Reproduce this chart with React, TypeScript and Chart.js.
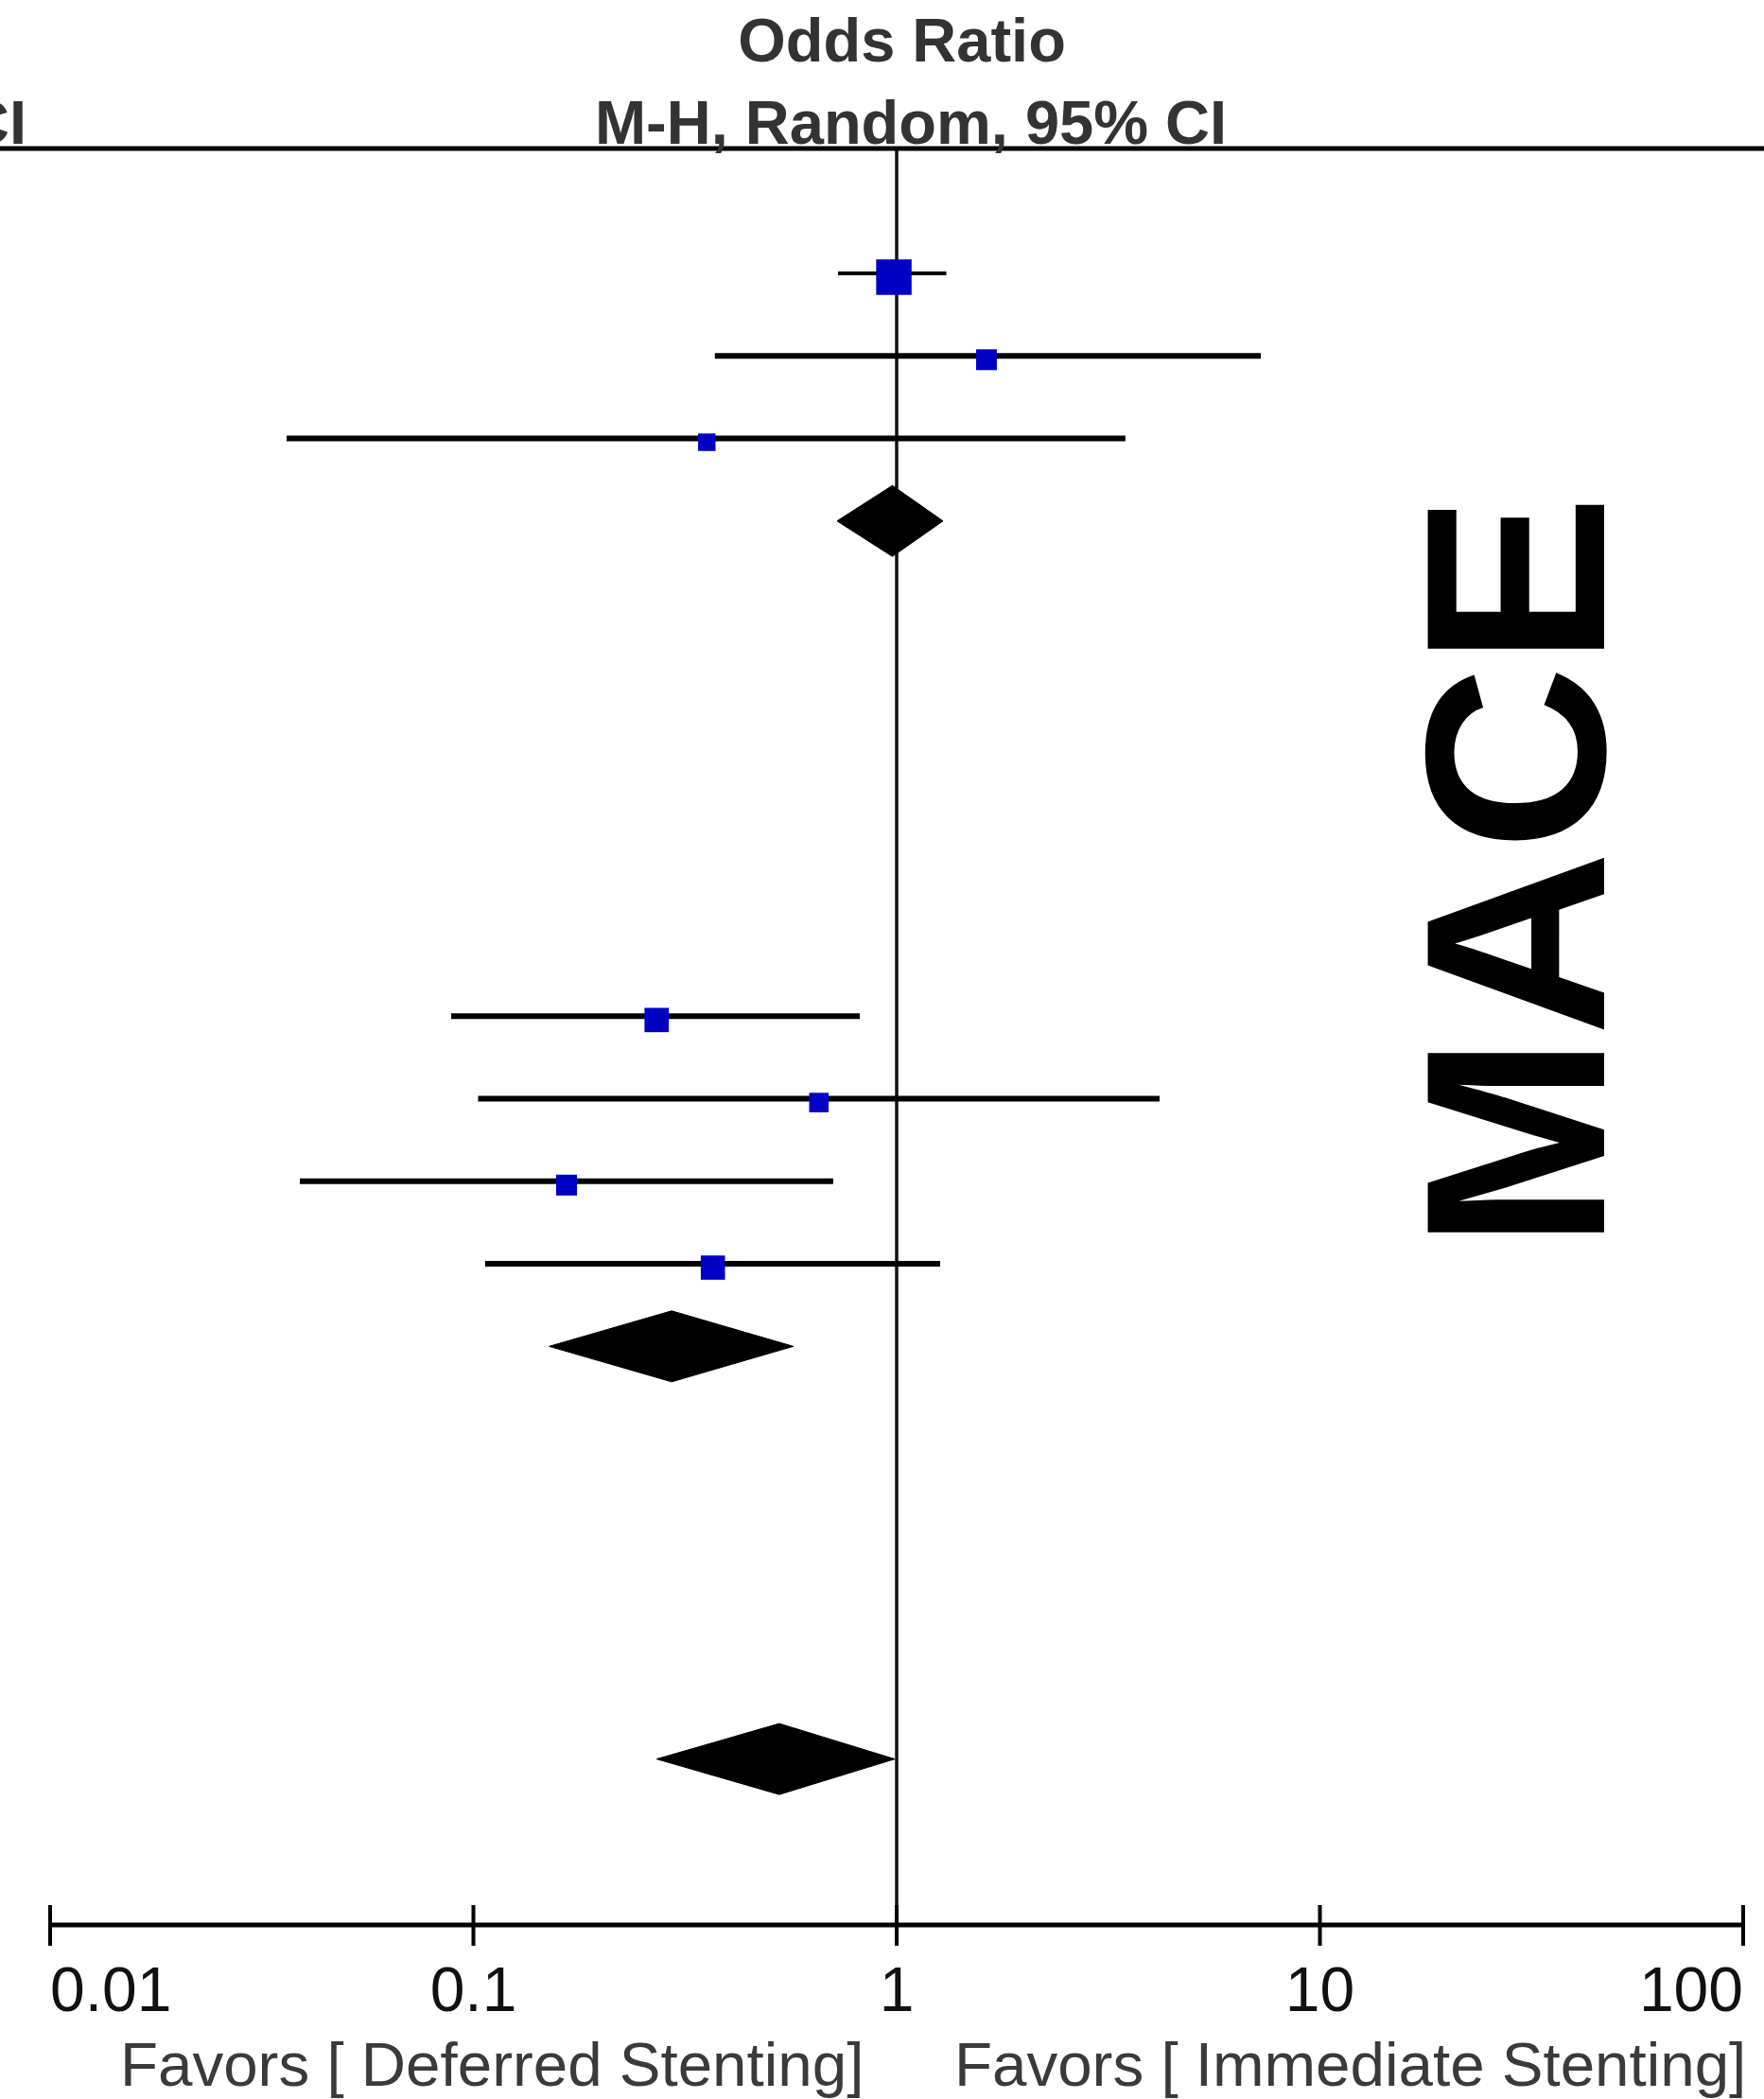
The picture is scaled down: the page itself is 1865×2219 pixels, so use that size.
import React, { useEffect, useRef } from "react";
import { Chart, registerables } from "chart.js";

Chart.register(...registerables);

// ---- data ----
const STUDY_ROWS = [0, 1, 2, 9, 10, 11, 12];
const STUDY_OR = [0.985, 1.63, 0.356, 0.271, 0.655, 0.166, 0.368];
const STUDY_LOW = [0.727, 0.372, 0.0362, 0.0886, 0.1026, 0.0389, 0.1066];
const STUDY_HIGH = [1.31, 7.25, 3.47, 0.818, 4.18, 0.708, 1.267];
const STUDY_WEIGHT = [63.0, 21.7, 15.3, 29.7, 19.0, 21.9, 29.4];

const POOLED_ROWS = [3, 13, 18];
const POOLED_OR = [0.977, 0.294, 0.528];
const POOLED_LOW = [0.723, 0.151, 0.271];
const POOLED_HIGH = [1.287, 0.57, 0.99];

const X_TICKS = [0.01, 0.1, 1, 10, 100];
const X_TICK_LABELS = ["0.01", "0.1", "1", "10", "100"];

const TITLE_LINES = ["Odds Ratio", "M-H, Random, 95% CI"];
const CUT_LABEL = "CI";
const FAVOURS_LEFT = "Favors [ Deferred Stenting]";
const FAVOURS_RIGHT = "Favors [ Immediate Stenting]";
const SIDE_LABEL = "MACE";

// ---- layout / style ----
const W = 1865;
const H = 2219;
const PLOT_LEFT = 53;
const PLOT_RIGHT = 1843;
const PLOT_TOP = 157;
const PLOT_BOTTOM = 2035;
const Y_MIN = -1.513;
const Y_MAX = 20.01;
const BOX_SCALE = 4.72;
const BOX_DROP = 4;
const DIAMOND_HALF = 0.43;
const BLUE = "rgb(0,0,196)";
const FONT = '"Liberation Sans", Arial, Helvetica, sans-serif';

const decorPlugin = {
  id: "forestDecor",
  beforeDatasetDraw(chart: any, args: any) {
    if (args.index === 0) {
      chart.ctx.save();
      chart.ctx.translate(0, BOX_DROP);
    }
  },
  afterDatasetDraw(chart: any, args: any) {
    if (args.index === 0) chart.ctx.restore();
  },
  afterDraw(chart: any) {
    const ctx = chart.ctx as CanvasRenderingContext2D;
    const xs = chart.scales.x;
    const area = chart.chartArea;
    ctx.save();

    // top rule
    ctx.fillStyle = "#000";
    ctx.fillRect(0, area.top - 2.5, chart.width, 5);

    // x axis line and ticks
    const xa = xs.getPixelForValue(X_TICKS[0]);
    const xb = xs.getPixelForValue(X_TICKS[X_TICKS.length - 1]);
    ctx.fillRect(xa, area.bottom - 2.5, xb - xa, 5);
    ctx.font = `66px ${FONT}`;
    ctx.textBaseline = "alphabetic";
    X_TICKS.forEach((t, i) => {
      const px = xs.getPixelForValue(t);
      ctx.fillStyle = "#000";
      ctx.fillRect(px - 2, area.bottom - 21, 4, 43);
      ctx.fillStyle = "#111";
      ctx.textAlign = i === 0 ? "left" : i === X_TICKS.length - 1 ? "right" : "center";
      ctx.fillText(X_TICK_LABELS[i], px, area.bottom + 91);
    });

    // favours labels
    ctx.fillStyle = "#3a3a3a";
    ctx.font = `65.5px ${FONT}`;
    ctx.textAlign = "left";
    ctx.fillText(FAVOURS_LEFT, 127, 2205);
    ctx.fillText(FAVOURS_RIGHT, 1009, 2205);

    // column title
    ctx.fillStyle = "#333";
    ctx.font = `bold 65px ${FONT}`;
    ctx.textAlign = "center";
    ctx.fillText(TITLE_LINES[0], 953.5, 65);
    ctx.fillText(TITLE_LINES[1], 963, 152);
    ctx.textAlign = "right";
    ctx.fillText(CUT_LABEL, 28, 152);

    // rotated side label
    ctx.fillStyle = "#000";
    ctx.font = `bold 271px ${FONT}`;
    ctx.translate(1696, 922);
    ctx.rotate(-Math.PI / 2);
    ctx.textAlign = "center";
    ctx.fillText(SIDE_LABEL, 0, 0);

    ctx.restore();
  },
};

export default function App() {
  const ref = useRef<HTMLCanvasElement>(null);

  useEffect(() => {
    const canvas = ref.current;
    if (!canvas) return;

    const datasets: any[] = [];

    // study boxes
    datasets.push({
      type: "scatter",
      data: STUDY_OR.map((v, i) => ({ x: v, y: STUDY_ROWS[i] })),
      pointStyle: "rect",
      pointRadius: STUDY_WEIGHT.map((w) => (BOX_SCALE * Math.sqrt(w)) / Math.SQRT2),
      backgroundColor: BLUE,
      borderColor: BLUE,
      borderWidth: 0,
      pointBorderWidth: 0,
      order: 0,
      clip: false,
    });

    // pooled diamonds
    POOLED_OR.forEach((v, i) => {
      const r = POOLED_ROWS[i];
      datasets.push({
        type: "line",
        data: [
          { x: POOLED_LOW[i], y: r },
          { x: v, y: r - DIAMOND_HALF },
          { x: POOLED_HIGH[i], y: r },
          { x: v, y: r + DIAMOND_HALF },
          { x: POOLED_LOW[i], y: r },
        ],
        fill: "shape",
        backgroundColor: "#000",
        borderColor: "#000",
        borderWidth: 1,
        pointRadius: 0,
        tension: 0,
        order: 1,
        clip: false,
      });
    });

    // confidence intervals
    STUDY_OR.forEach((_, i) => {
      datasets.push({
        type: "line",
        data: [
          { x: STUDY_LOW[i], y: STUDY_ROWS[i] },
          { x: STUDY_HIGH[i], y: STUDY_ROWS[i] },
        ],
        borderColor: "#000",
        borderWidth: i === 0 ? 4 : 6,
        borderCapStyle: "butt",
        pointRadius: 0,
        fill: false,
        order: 2,
        clip: false,
      });
    });

    // line of no effect
    datasets.push({
      type: "line",
      data: [
        { x: 1, y: Y_MIN },
        { x: 1, y: Y_MAX },
      ],
      borderColor: "#111",
      borderWidth: 3.5,
      pointRadius: 0,
      fill: false,
      order: 3,
      clip: false,
    });

    const chart = new Chart(canvas, {
      type: "scatter",
      data: { datasets },
      options: {
        animation: false,
        responsive: false,
        devicePixelRatio: 1,
        layout: {
          autoPadding: false,
          padding: {
            left: PLOT_LEFT,
            right: W - PLOT_RIGHT,
            top: PLOT_TOP,
            bottom: H - PLOT_BOTTOM,
          },
        },
        scales: {
          x: { type: "logarithmic", min: 0.01, max: 100, display: false },
          y: { type: "linear", min: Y_MIN, max: Y_MAX, reverse: true, display: false },
        },
        plugins: {
          legend: { display: false },
          tooltip: { enabled: false },
          title: { display: false },
        },
      } as any,
      plugins: [decorPlugin],
    } as any);

    return () => chart.destroy();
  }, []);

  return (
    <div
      style={{
        position: "absolute",
        left: 0,
        top: 0,
        width: W,
        height: H,
        background: "#fff",
        overflow: "hidden",
      }}
    >
      <canvas ref={ref} width={W} height={H} style={{ display: "block" }} />
    </div>
  );
}
